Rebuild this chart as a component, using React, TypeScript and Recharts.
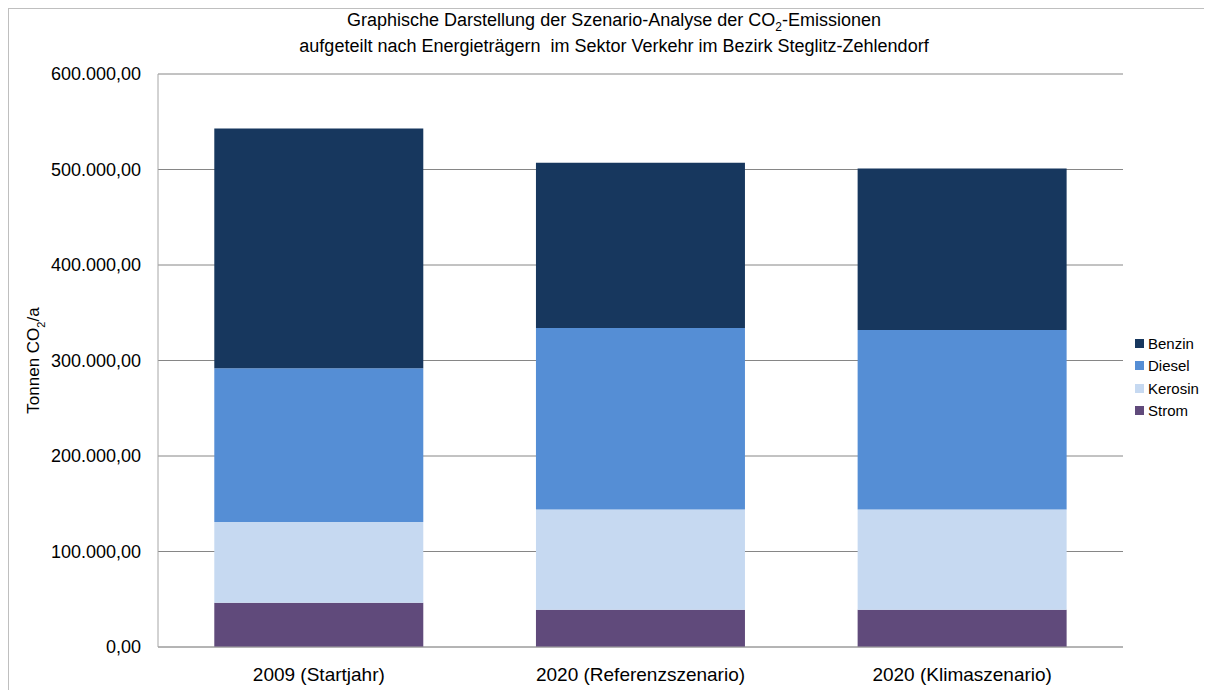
import * as React from "react";
import { BarChart, Bar, XAxis, YAxis, CartesianGrid } from "recharts";

// values (t CO2/a)
const categories = ["2009 (Startjahr)", "2020 (Referenzszenario)", "2020 (Klimaszenario)"];
const strom = [46400, 39000, 39000];
const kerosin = [84600, 105000, 105000];
const diesel = [161000, 190000, 188000];
const benzin = [251000, 173000, 169000];
const yTicks = [0, 100000, 200000, 300000, 400000, 500000, 600000];

const series = [
  { key: "strom", name: "Strom", color: "#604A7B" },
  { key: "kerosin", name: "Kerosin", color: "#C6D9F1" },
  { key: "diesel", name: "Diesel", color: "#558ED5" },
  { key: "benzin", name: "Benzin", color: "#17375E" },
];

const data = categories.map((name, i) => ({
  name,
  strom: strom[i],
  kerosin: kerosin[i],
  diesel: diesel[i],
  benzin: benzin[i],
}));

const FONT = "'Liberation Sans', Arial, sans-serif";

const fmt = (v: number) => {
  const s = Math.round(v).toString().replace(/\B(?=(\d{3})+(?!\d))/g, ".");
  return `${s},00`;
};

const YLabel = ({ viewBox }: any) => {
  const cy = viewBox.y + viewBox.height / 2;
  const x = 30;
  return (
    <text
      x={x}
      y={cy}
      transform={`rotate(-90, ${x}, ${cy})`}
      textAnchor="middle"
      fontSize={17}
      fontFamily={FONT}
      fill="#000"
    >
      Tonnen CO<tspan baselineShift="sub" fontSize={11}>2</tspan>/a
    </text>
  );
};

export default function App() {
  return (
    <div
      style={{
        width: 1195,
        height: 681,
        borderTop: "1px solid #BFBFBF",
        borderLeft: "1px solid #BFBFBF",
        position: "relative",
        background: "#fff",
        fontFamily: FONT,
      }}
    >
      <style>{"html { overflow: hidden; }"}</style>
      <div
        style={{
          position: "absolute",
          left: 0,
          width: 1210,
          top: -2,
          textAlign: "center",
          fontSize: 18,
          lineHeight: "26px",
          color: "#000",
        }}
      >
        Graphische Darstellung der Szenario-Analyse der CO<sub style={{ fontSize: 12, lineHeight: 0 }}>2</sub>-Emissionen
        <br />
        aufgeteilt nach Energieträgern&nbsp; im Sektor Verkehr im Bezirk Steglitz-Zehlendorf
      </div>

      <BarChart
        width={1194}
        height={688}
        data={data}
        margin={{ top: 65, right: 80, bottom: 10, left: 0 }}
        barCategoryGap="17.5%"
      >
        <CartesianGrid vertical={false} stroke="#868686" />
        <XAxis
          dataKey="name"
          height={40}
          tickLine={false}
          axisLine={{ stroke: "#A6A6A6" }}
          tickMargin={15}
          tick={{ fontSize: 19, fill: "#000", fontFamily: FONT }}
        />
        <YAxis
          width={149}
          domain={[0, 600000]}
          ticks={yTicks}
          tickFormatter={fmt}
          tickLine={false}
          axisLine={{ stroke: "#A6A6A6" }}
          tickMargin={11}
          tick={{ fontSize: 18, fill: "#000", fontFamily: FONT }}
          label={<YLabel />}
        />
        {series.map((s) => (
          <Bar
            key={s.key}
            dataKey={s.key}
            name={s.name}
            stackId="a"
            fill={s.color}
            isAnimationActive={false}
          />
        ))}
      </BarChart>

      <div style={{ position: "absolute", left: 1126, top: 323, fontSize: 15, color: "#000", whiteSpace: "nowrap" }}>
        {[...series].reverse().map((s) => (
          <div key={s.key} style={{ display: "flex", alignItems: "center", height: 22.5 }}>
            <span style={{ width: 9, height: 9, background: s.color, marginRight: 4, display: "inline-block" }} />
            {s.name}
          </div>
        ))}
      </div>
    </div>
  );
}
